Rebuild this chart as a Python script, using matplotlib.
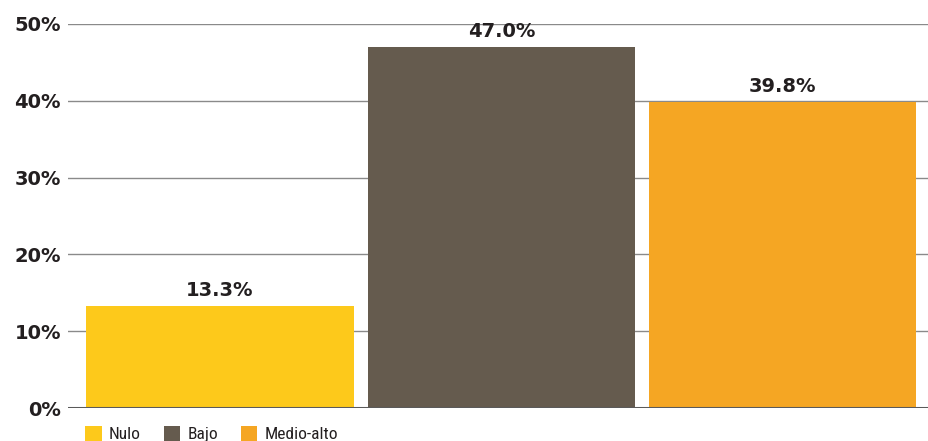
"""
Bar chart of the share of respondents by level (Nulo / Bajo / Medio-alto).
"""

import matplotlib
matplotlib.use('Agg')
import matplotlib.pyplot as plt
from matplotlib.patches import Patch

categories = ['Nulo', 'Bajo', 'Medio-alto']
shares = [13.3, 47.0, 39.8]
value_labels = ['13.3%', '47.0%', '39.8%']
colors = ['#FDC91B', '#655B4E', '#F5A623']
y_ticks = [0, 10, 20, 30, 40, 50]
y_tick_labels = ['0%', '10%', '20%', '30%', '40%', '50%']

TEXT = '#231F20'
BOLD_FONT = ['DejaVu Sans']
NARROW_FONT = ['Roboto Condensed', 'Liberation Sans Narrow', 'Roboto', 'DejaVu Sans']


def main():
	fig = plt.figure(figsize=(9.29, 4.41), dpi=100)
	ax = fig.add_axes([0.0732, 0.0748, 0.9268, 0.8708])

	x = range(len(categories))
	ax.bar(x, shares, width=0.95, color=colors, zorder=3)

	# Value labels just above each bar
	for xi, val, lab in zip(x, shares, value_labels):
		ax.text(xi, val + 0.8, lab, ha='center', va='bottom', fontsize=14,
				fontweight='bold', color=TEXT, family=BOLD_FONT)

	ax.set_xlim(-0.54, 2.52)
	ax.set_ylim(0, 50)
	ax.set_xticks([])
	ax.set_yticks(y_ticks)
	ax.set_yticklabels(y_tick_labels, fontsize=14, fontweight='bold',
					   color=TEXT, family=BOLD_FONT)
	ax.tick_params(axis='y', length=0, pad=5)

	# Horizontal guide lines; the baseline is heavier
	for t in y_ticks[1:]:
		ax.axhline(t, color='#8A8A8A', linewidth=1.0, zorder=1)
	ax.axhline(0, color='#5A5A5A', linewidth=2.2, zorder=4)

	for side in ['top', 'right', 'left', 'bottom']:
		ax.spines[side].set_visible(False)

	handles = [Patch(facecolor=c, edgecolor='none') for c in colors]
	fig.legend(handles, categories, loc='lower left', bbox_to_anchor=(0.075, -0.038),
			   ncol=3, frameon=False, handlelength=0.95, handleheight=0.95,
			   handletextpad=0.42, columnspacing=1.3,
			   prop={'family': NARROW_FONT, 'size': 12.5, 'stretch': 'condensed'})
	for txt in fig.legends[0].get_texts():
		txt.set_color(TEXT)

	fig.savefig('out.png', dpi=100)
	plt.close(fig)


if __name__ == '__main__':
	main()
